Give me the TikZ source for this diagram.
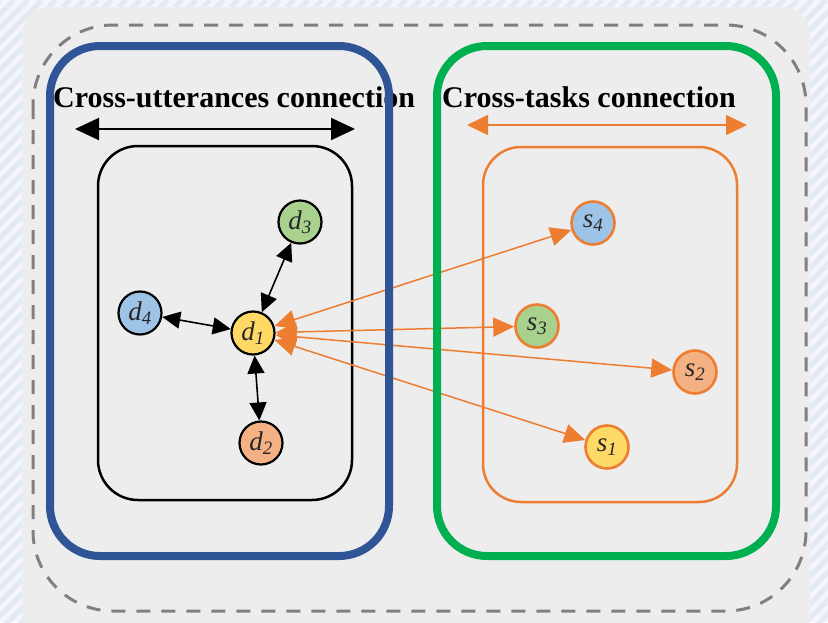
\documentclass[tikz,border=0pt]{standalone}
\usepackage{fontspec}
\setmainfont{Liberation Serif}
\usetikzlibrary{arrows.meta}

\definecolor{bgtint}{HTML}{F3F6FA}
\definecolor{stripe}{HTML}{E4EAF3}
\definecolor{panel}{HTML}{EDEDED}
\definecolor{dashgray}{HTML}{808080}
\definecolor{frameblue}{HTML}{2F5597}
\definecolor{framegreen}{HTML}{00B050}
\definecolor{taskorange}{HTML}{ED7D31}
\definecolor{fillyellow}{HTML}{FFD966}
\definecolor{fillorange}{HTML}{F4B183}
\definecolor{fillgreen}{HTML}{A9D18E}
\definecolor{fillblue}{HTML}{9DC3E6}

\tikzset{
  title/.style={inner sep=0pt, anchor=base west, font=\fontsize{30}{30}\selectfont\bfseries},
  frame/.style={line width=8pt, rounded corners=50pt},
  groupbox/.style={line width=2.5pt, rounded corners=40pt},
  nodetext/.style={font=\fontsize{27}{27}\selectfont\itshape, text=black!85},
  utt/.style={circle, draw=black, line width=2.2pt, minimum size=43pt, inner sep=0pt, nodetext},
  task/.style={circle, draw=taskorange, line width=2.6pt, minimum size=43pt, inner sep=0pt, nodetext},
  bigarrow/.style={line width=2pt, {Triangle[length=24pt,width=22pt]}-{Triangle[length=24pt,width=22pt]}},
  karrow/.style={line width=1.6pt, {Triangle[length=18pt,width=17pt]}-{Triangle[length=18pt,width=17pt]}},
  oarrow/.style={draw=taskorange, fill=taskorange, line width=1.5pt,
    {Triangle[length=21pt,width=19pt]}-{Triangle[length=21pt,width=19pt]}},
}

\begin{document}
\begin{tikzpicture}[x=1pt, y=-1pt]
\useasboundingbox (0,0) rectangle (828,622);

% striped backdrop
\fill[bgtint] (0,0) rectangle (828,622);
\begin{scope}
  \clip (0,0) rectangle (828,622);
  \foreach \i in {-700,-686,...,840}
    \draw[stripe, line width=5pt] (\i,630) -- (\i+630,0);
\end{scope}

% gray panel and dashed outline
\fill[panel, rounded corners=28pt] (22,7) rectangle (810,640);
\draw[dashgray, line width=3pt, dash pattern=on 14pt off 11pt, rounded corners=80pt]
  (33,25) rectangle (806,611);

% titles and their arrows
\node[title] (tutt) at (53,107) {Cross-utterances connection};
\node[title] (ttask) at (442,107) {Cross-tasks connection};
\coordinate (ua) at (75,129);
\coordinate (ub) at (355,129);
\coordinate (ta) at (467,125);
\coordinate (tb) at (747,125);
\draw[bigarrow] (ua) -- (ub);
\draw[draw=taskorange, fill=taskorange, line width=1.5pt,
  {Triangle[length=21pt,width=20pt]}-{Triangle[length=21pt,width=20pt]}] (ta) -- (tb);

% inner group boxes
\draw[groupbox, draw=black] (98,146) rectangle (352,500);
\draw[groupbox, draw=taskorange, rounded corners=38pt] (483,147) rectangle (737,502);

% nodes
\node[utt, fill=fillyellow] (d1) at (253,333) {d\textsubscript{1}};
\node[utt, fill=fillorange] (d2) at (261,443) {d\textsubscript{2}};
\node[utt, fill=fillgreen]  (d3) at (300,222) {d\textsubscript{3}};
\node[utt, fill=fillblue]   (d4) at (140,313) {d\textsubscript{4}};
\node[task, fill=fillyellow] (s1) at (607,447) {s\textsubscript{1}};
\node[task, fill=fillorange] (s2) at (695,372) {s\textsubscript{2}};
\node[task, fill=fillgreen]  (s3) at (537,326) {s\textsubscript{3}};
\node[task, fill=fillblue]   (s4) at (593,223) {s\textsubscript{4}};

% connections
\draw[karrow] (d1) -- (d3);
\draw[karrow] (d1) -- (d4);
\draw[karrow] (d1) -- (d2);
\draw[oarrow] (d1) -- (s4);
\draw[oarrow] (d1) -- (s3);
\draw[oarrow] (d1) -- (s2);
\draw[oarrow] (d1) -- (s1);

% outer frames
\draw[frame, frameblue]  (50,46) rectangle (389,556);
\draw[frame, framegreen] (437,46) rectangle (776,556);
\end{tikzpicture}
\end{document}
